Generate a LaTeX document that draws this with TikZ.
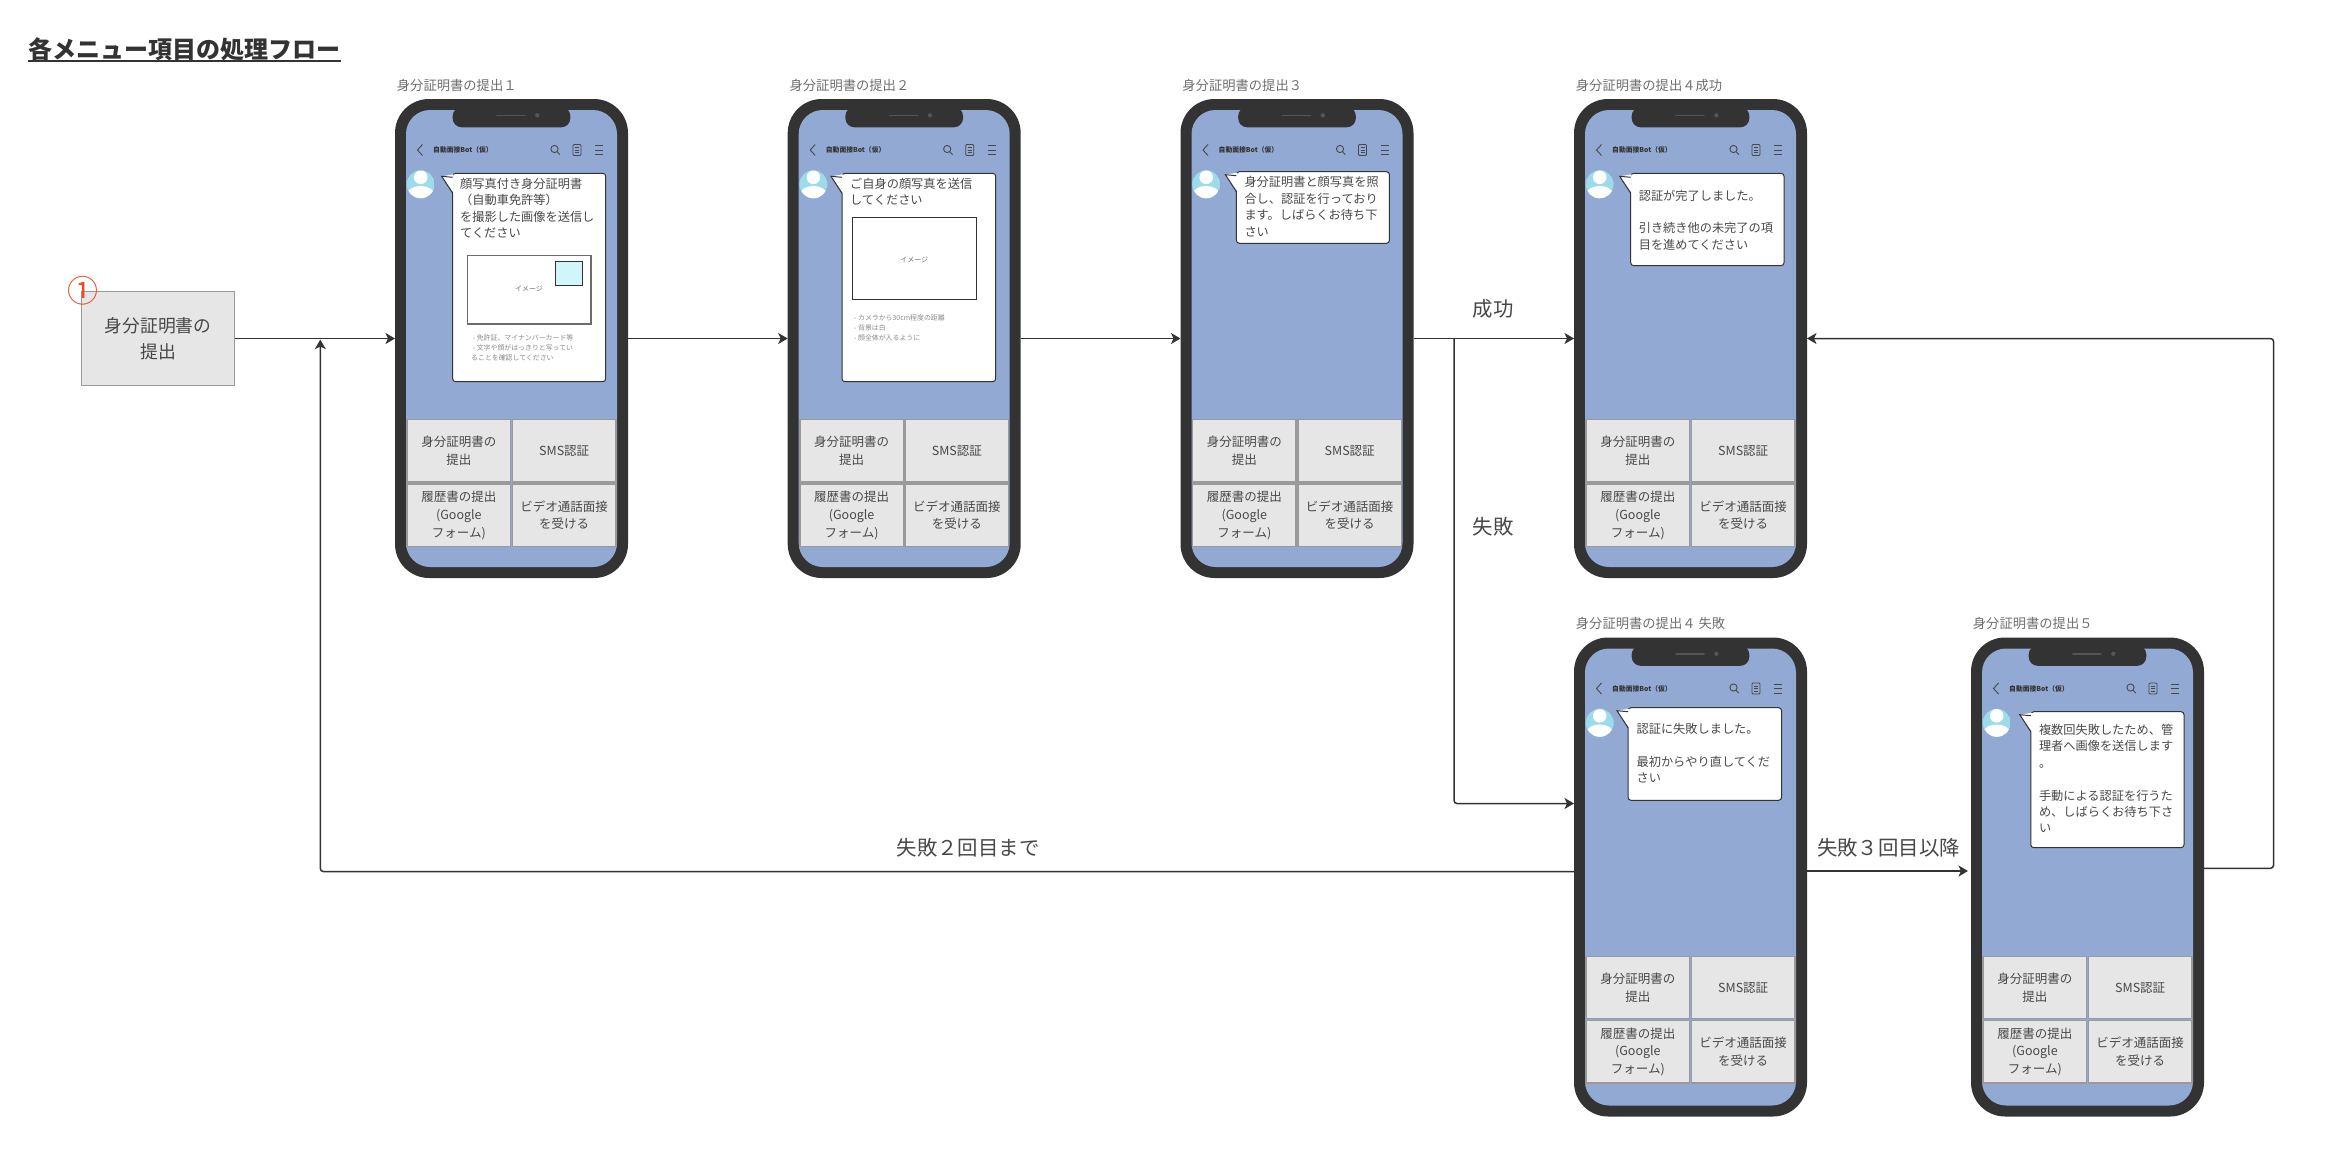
\documentclass[tikz,border=0pt]{standalone}
\usepackage{fontspec}
\setmainfont{Noto Sans CJK JP}
\usetikzlibrary{arrows.meta,calc}
\definecolor{ink}{HTML}{333333}
\definecolor{soft}{HTML}{484848}
\definecolor{capt}{HTML}{6E6E6E}
\definecolor{tiny}{HTML}{8A8A8A}
\definecolor{scr}{HTML}{92A9D3}
\definecolor{cell}{HTML}{E6E6E6}
\definecolor{edge}{HTML}{9A9A9A}
\definecolor{ava}{HTML}{9BDBEA}
\definecolor{faceblue}{HTML}{D0F6FB}
\definecolor{redmark}{HTML}{F0492A}
\definecolor{speaker}{HTML}{555555}
\newcommand{\fs}[2]{\fontsize{#1}{#2}\selectfont}
\newcommand{\menudy}{0}
\tikzset{
  phonebody/.style={fill=ink,rounded corners=34pt,minimum width=233pt,minimum height=479pt,inner sep=0pt,outer sep=0pt},
  screenbody/.style={fill=scr,rounded corners=24pt,minimum width=211pt,minimum height=457pt,inner sep=0pt,outer sep=0pt},
  menucell/.style={fill=cell,draw=edge,line width=1.4pt,minimum width=103.5pt,minimum height=62.5pt,inner sep=0pt,align=center,text=soft,font=\fs{12.5}{17.8}},
  startbox/.style={fill=cell,draw=edge,line width=1pt,minimum width=152.5pt,minimum height=93.5pt,inner sep=0pt,align=center,text=soft,font=\fs{17.8}{25.6}},
  caption/.style={anchor=west,inner sep=0pt,text=capt,font=\fs{13.3}{16}},
  headtext/.style={anchor=west,inner sep=0pt,text=ink,font=\bfseries\fs{6.8}{8}},
  bubblebox/.style={draw=ink,fill=white,line width=1pt,rounded corners=3pt,inner sep=0pt},
  bubbletext/.style={anchor=north west,inner sep=0pt,align=left,text=soft,font=\fs{12.2}{16.4}},
  notetext/.style={anchor=north west,inner sep=0pt,align=left,text=tiny,font=\fs{6.9}{10}},
  imgbox/.style={draw=#1,fill=white,line width=1.1pt,inner sep=0pt},
  imgtext/.style={inner sep=0pt,text=capt,font=\fs{7}{8}},
  flowlabel/.style={inner sep=0pt,text=soft,font=\fs{20.4}{24}},
  flow/.style={draw=ink,line width=1.8pt,rounded corners=3pt,-{Stealth[length=9.5pt,width=11pt,inset=2.5pt]}},
  thinflow/.style={flow,line width=1.5pt},
  plainicon/.style={draw=soft,line width=0.9pt}
}
% #1 name, #2 left, #3 top, #4 caption
\newcommand{\phone}[4]{%
  \node[caption] (#1cap) at (#2+1.7,#3-14) {#4};
  \begin{scope}[shift={(#2,#3)}]
    \node[phonebody] (#1) at (116.5,239.5) {};
    \node[screenbody] (#1scr) at (116.5,239.5) {};
    \fill[ink,rounded corners=9pt] (57.7,8) -- (57.7,28.3) -- (175.3,28.3) -- (175.3,8) -- cycle;
    \draw[line width=1.6pt,draw=speaker,line cap=round] (102,16.3) -- (130,16.3);
    \fill[speaker] (142.3,16.3) circle (2.2pt);
    % header
    \draw[soft,line width=0.9pt] (27.5,45.5) -- (22.5,51) -- (27.5,56.5);
    \node[headtext] (#1head) at (38,51) {自動面接Bot（仮）};
    \draw[plainicon] (159.5,50) circle (3.6pt);
    \draw[plainicon] (162.2,52.8) -- (164.8,55.6);
    \draw[plainicon,rounded corners=1pt] (178,45.5) rectangle (186,56.5);
    \draw[soft,line width=0.7pt] (180,48.5) -- (184,48.5) (180,51) -- (184,51) (180,53.5) -- (184,53.5);
    \draw[plainicon] (200,46.5) -- (208,46.5) (200,51) -- (208,51) (200,55.5) -- (208,55.5);
    % avatar
    \begin{scope}
      \clip (25.7,85.3) circle (14pt);
      \fill[ava] (25.7,85.3) circle (14pt);
      \fill[white] (25.7,78.3) circle (6.8pt);
      \fill[white] (25.7,94.5) ellipse (13pt and 7.5pt);
    \end{scope}
    % menu
    \node[menucell] (#1m1) at (63.9,351.8+\menudy) {身分証明書の\\提出};
    \node[menucell] (#1m2) at (169.2,351.8+\menudy) {SMS認証};
    \node[menucell] (#1m3) at (63.9,416.2+\menudy) {履歴書の提出\\(Google\\フォーム)};
    \node[menucell] (#1m4) at (169.2,416.2+\menudy) {ビデオ通話面接\\を受ける};
  \end{scope}
}
% #1 name, #2 x1, #3 y1, #4 x2, #5 y2
\newcommand{\bubble}[5]{%
  \node[bubblebox,minimum width=#4-#2,minimum height=#5-#3] (#1) at ({(#2+#4)/2},{(#3+#5)/2}) {};
  \fill[white] (#2-11,#3+3) -- (#2+1,#3+1) -- (#2+1,#3+20) -- cycle;
  \draw[ink,line width=1pt,line join=miter] (#2,#3+4) -- (#2-11,#3+3) -- (#2,#3+20);
}
\begin{document}
\begin{tikzpicture}[x=1pt,y=-1pt]
\useasboundingbox (0,0) rectangle (2327,1159);

% title
\node[anchor=west,inner sep=0pt,text=ink,font=\bfseries\fs{24}{28}] (title) at (28.3,49.3) {各メニュー項目の処理フロー};
\draw[ink,line width=1.8pt] (title.west |- 0,61) -- (title.east |- 0,61);

% start box
\node[startbox] (n1) at (158,338.5) {身分証明書の\\提出};
\node[inner sep=0pt,text=redmark,font=\fs{31}{31}] (mark) at (82.7,291) {①};

% phones
\phone{pa}{395}{99}{身分証明書の提出１}
\phone{pb}{787.7}{99}{身分証明書の提出２}
\phone{pc}{1180.5}{99}{身分証明書の提出３}
\phone{pd}{1574}{99}{身分証明書の提出４成功}
\renewcommand{\menudy}{-1.8}
\phone{pe}{1574}{637.5}{身分証明書の提出４ 失敗}
\phone{pf}{1971}{637.5}{身分証明書の提出５}

% phone 1 bubble
\bubble{ba}{452.7}{173.3}{605.7}{381.7}
\node[bubbletext] (bat) at (460,178) {顔写真付き身分証明書\\（自動車免許等）\\を撮影した画像を送信し\\てください};
\node[imgbox=edge!70!black,minimum width=123.5pt,minimum height=68.3pt] (bai) at (529.2,289.8) {};
\node[imgbox=ink,fill=faceblue,minimum width=26.3pt,minimum height=24.4pt] (baf) at (568.9,273.5) {};
\node[imgtext] (bal) at (529,289.3) {イメージ};
\node[notetext] (ban) at (471,334.5) {\hspace{1.7pt}- 免許証、マイナンバーカード等\\\hspace{1.7pt}- 文字や顔がはっきりと写ってい\\ることを確認してください};

% phone 2 bubble
\bubble{bb}{842}{173.3}{995.7}{381.7}
\node[bubbletext] (bbt) at (850,178) {ご自身の顔写真を送信\\してください};
\node[imgbox=ink,minimum width=124pt,minimum height=81.6pt] (bbi) at (914.7,258.5) {};
\node[imgtext] (bbl) at (914.3,260) {イメージ};
\node[notetext] (bbn) at (854,314.5) {- カメラから30cm程度の距離\\- 背景は白\\- 顔全体が入るように};

% phone 3 bubble
\bubble{bc}{1236.4}{171.7}{1389.4}{243.3}
\node[bubbletext] (bct) at (1244.3,176.5) {身分証明書と顔写真を照\\合し、認証を行っており\\ます。しばらくお待ち下\\さい};

% phone 4 bubble
\bubble{bd}{1630.7}{173.3}{1784}{265.7}
\node[bubbletext] (bdt) at (1638.6,189.5) {認証が完了しました。\\[16.4pt]引き続き他の未完了の項\\目を進めてください};

% phone 4b bubble
\bubble{be}{1628}{707.7}{1781.6}{800.3}
\node[bubbletext] (bet) at (1636.4,723) {認証に失敗しました。\\[16.4pt]最初からやり直してくだ\\さい};

% phone 5 bubble
\bubble{bf}{2030.8}{711.7}{2184}{847.7}
\node[bubbletext] (bft) at (2038.8,724) {複数回失敗したため、管\\理者へ画像を送信します\\。\\[16.4pt]手動による認証を行うた\\め、しばらくお待ち下さ\\い};

% helper coordinates
\coordinate (merge) at (320.3,339.6);
\coordinate (branch) at (1454,338.5);
\coordinate (failin) at ($(pe.west)+(0,73.5pt)$);
\coordinate (failback) at ($(pe.west)+(0,5.5pt)$);
\coordinate (failfwd) at ($(pe.east)+(0,6pt)$);
\coordinate (failfwdend) at ($(pf.west)+(-3pt,6pt)$);
\coordinate (adminout) at ($(pf.east)+(0,8.7pt)$);
\coordinate (rightx) at (2273.5,600);

% connectors
\draw[flow] (n1.east) -- (pa.west);
\draw[flow] (pa.east) -- (pb.west);
\draw[flow] (pb.east) -- (pc.west);
\draw[flow] (pc.east) -- (pd.west);
\draw[thinflow] (branch) -- (branch |- failin) -- (failin);
\draw[thinflow] (failback) -- (merge |- failback) -- (merge);
\draw[flow] (failfwd) -- (failfwdend);
\draw[thinflow] (adminout) -- (rightx |- adminout) -- (rightx |- pd.east) -- (pd.east);

% connector labels
\node[flowlabel] (lok) at (1493,309.3) {成功};
\node[flowlabel] (lng) at (1493,527) {失敗};
\node[flowlabel] (lng2) at (968,848) {失敗２回目まで};
\node[flowlabel] (lng3) at (1888.5,847.3) {失敗３回目以降};
\end{tikzpicture}
\end{document}
